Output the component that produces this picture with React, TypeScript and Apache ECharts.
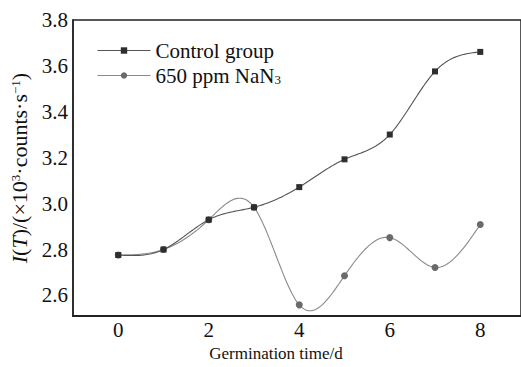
import React, { useEffect, useRef } from "react";
import * as echarts from "echarts";

const days = [0, 1, 2, 3, 4, 5, 6, 7, 8];
const controlValues = [2.776, 2.8, 2.93, 2.984, 3.072, 3.193, 3.301, 3.576, 3.661];
const nanValues = [2.776, 2.8, 2.93, 2.984, 2.559, 2.686, 2.852, 2.722, 2.909];
const xTicks = [0, 2, 4, 6, 8];
const yTicks = [2.6, 2.8, 3.0, 3.2, 3.4, 3.6, 3.8];
const seriesNames = ["Control group", "650 ppm NaN3"];

const FONT = "Liberation Serif";
const INK = "#111";

// natural cubic spline through (xs, ys)
function makeSpline(xs: number[], ys: number[]) {
  const n = xs.length;
  const h: number[] = [];
  for (let i = 0; i < n - 1; i++) h.push(xs[i + 1] - xs[i]);
  const a: number[] = new Array(n).fill(0);
  const b: number[] = new Array(n).fill(1);
  const c: number[] = new Array(n).fill(0);
  const d: number[] = new Array(n).fill(0);
  for (let i = 1; i < n - 1; i++) {
    a[i] = h[i - 1];
    b[i] = 2 * (h[i - 1] + h[i]);
    c[i] = h[i];
    d[i] = 6 * ((ys[i + 1] - ys[i]) / h[i] - (ys[i] - ys[i - 1]) / h[i - 1]);
  }
  const cp = new Array(n).fill(0);
  const dp = new Array(n).fill(0);
  cp[0] = c[0] / b[0];
  dp[0] = d[0] / b[0];
  for (let i = 1; i < n; i++) {
    const m = b[i] - a[i] * cp[i - 1];
    cp[i] = c[i] / m;
    dp[i] = (d[i] - a[i] * dp[i - 1]) / m;
  }
  const M = new Array(n).fill(0);
  M[n - 1] = dp[n - 1];
  for (let i = n - 2; i >= 0; i--) M[i] = dp[i] - cp[i] * M[i + 1];
  return (i: number, t: number) => {
    const x0 = xs[i], x1 = xs[i + 1], hi = h[i];
    const A = (x1 - t) / hi, B = (t - x0) / hi;
    return (
      A * ys[i] +
      B * ys[i + 1] +
      ((A * A * A - A) * M[i] + (B * B * B - B) * M[i + 1]) * (hi * hi) / 6
    );
  };
}

function curveSeries(values: number[], color: string) {
  const spline = makeSpline(days, values);
  return {
    type: "custom",
    name: "curve-" + color,
    clip: true,
    z: 1,
    silent: true,
    data: days.map((d, i) => [d, values[i]]),
    encode: { x: 0, y: 1 },
    renderItem: (params: any, api: any) => {
      const i = params.dataIndex;
      if (i >= days.length - 1) return null;
      const pts: number[][] = [];
      const steps = 30;
      for (let k = 0; k <= steps; k++) {
        const t = days[i] + ((days[i + 1] - days[i]) * k) / steps;
        pts.push(api.coord([t, spline(i, t)]));
      }
      return {
        type: "polyline",
        shape: { points: pts },
        style: { stroke: color, lineWidth: 1.1, fill: null },
      };
    },
  };
}

const tok = (size: number, extra: any = {}) => ({
  fontFamily: FONT,
  fontSize: size,
  color: INK,
  ...extra,
});

export default function App() {
  const ref = useRef<HTMLDivElement>(null);
  useEffect(() => {
    if (!ref.current) return;
    const chart = echarts.init(ref.current, undefined, { renderer: "svg" });
    chart.setOption({
      animation: false,
      backgroundColor: "#fff",
      textStyle: { fontFamily: FONT },
      grid: {
        left: 73,
        top: 20,
        right: -4,
        bottom: 44,
        show: true,
        borderColor: "#222",
        borderWidth: 1.5,
      },
      legend: {
        data: seriesNames,
        orient: "vertical",
        left: 92,
        top: 35,
        itemWidth: 53,
        itemHeight: 8,
        itemGap: 4,
        selectedMode: false,
        lineStyle: { opacity: 1, width: 1 },
        textStyle: {
          fontFamily: FONT,
          fontSize: 21,
          lineHeight: 21,
          color: INK,
          rich: {
            t: tok(21, { lineHeight: 21 }),
            sub: tok(13, { lineHeight: 12, verticalAlign: "bottom" }),
          },
        },
        formatter: (name: string) =>
          name === "650 ppm NaN3" ? "{t|650 ppm NaN}{sub|3}" : "{t|" + name + "}",
      },
      xAxis: {
        type: "value",
        min: -1,
        max: 8.9,
        name: "{t|Germination time/d}",
        nameLocation: "middle",
        nameGap: 16,
        nameTextStyle: {
          fontFamily: FONT,
          fontSize: 17,
          color: INK,
          padding: [0, 42, 0, 0],
          rich: { t: tok(17) },
        },
        axisLine: { show: true, onZero: false, lineStyle: { color: "#222", width: 2 } },
        axisTick: { show: false },
        splitLine: { show: false },
        axisLabel: {
          customValues: xTicks,
          margin: 3,
          fontFamily: FONT,
          fontSize: 21,
          color: INK,
          formatter: (v: number) => "{t|" + v + "}",
          rich: { t: tok(21) },
        },
      },
      yAxis: {
        type: "value",
        min: 2.51,
        max: 3.8,
        name: "{i|I}{n|(}{i|T}{n|)/(×10}{sup|3}{n|·counts·s}{sup|−1}{n|)}",
        nameLocation: "middle",
        nameGap: 42,
        nameRotate: 90,
        nameTextStyle: {
          fontFamily: FONT,
          fontSize: 22,
          color: INK,
          lineHeight: 22,
          rich: {
            n: tok(22, { lineHeight: 22 }),
            i: tok(22, { fontStyle: "italic", lineHeight: 22 }),
            sup: tok(13, { verticalAlign: "top", lineHeight: 13 }),
          },
        },
        axisLine: { show: true, onZero: false, lineStyle: { color: "#222", width: 1.5 } },
        axisTick: { show: false },
        splitLine: { show: false },
        axisLabel: {
          customValues: yTicks,
          margin: 5,
          fontFamily: FONT,
          fontSize: 21,
          color: INK,
          formatter: (v: number) => "{t|" + v.toFixed(1) + "}",
          rich: { t: tok(21) },
        },
      },
      series: [
        curveSeries(nanValues, "#8a8a8a"),
        curveSeries(controlValues, "#555555"),
        {
          type: "line",
          name: seriesNames[1],
          data: days.map((d, i) => [d, nanValues[i]]),
          symbol: "circle",
          symbolSize: 7,
          showSymbol: true,
          z: 3,
          itemStyle: { color: "#6a6a6a" },
          lineStyle: { color: "#8a8a8a", width: 1, opacity: 0 },
        },
        {
          type: "line",
          name: seriesNames[0],
          data: days.map((d, i) => [d, controlValues[i]]),
          symbol: "rect",
          symbolSize: 6,
          showSymbol: true,
          z: 4,
          itemStyle: { color: "#2e2e2e" },
          lineStyle: { color: "#555555", width: 1, opacity: 0 },
        },
      ],
    });
    return () => chart.dispose();
  }, []);
  return <div ref={ref} style={{ width: 521, height: 367, position: "fixed", left: 0, top: 0 }} />;
}
